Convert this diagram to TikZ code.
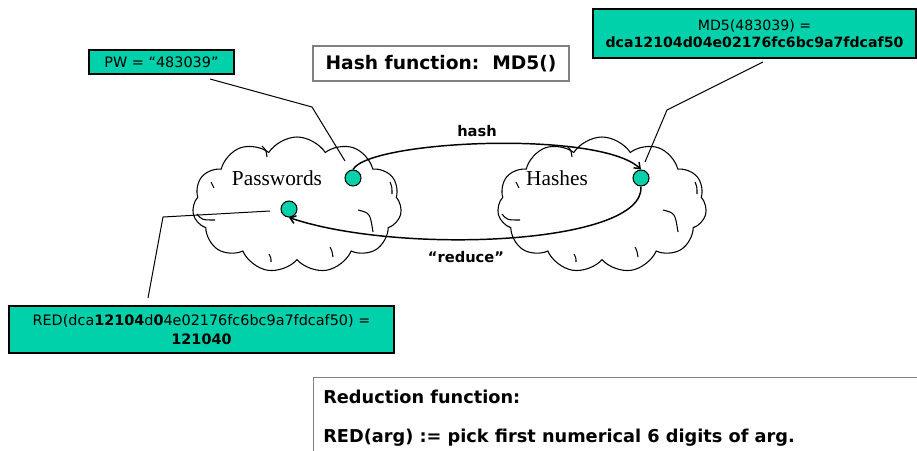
\documentclass[tikz,border=0pt]{standalone}
\usepackage{fontspec}
\setmainfont{DejaVu Sans}
\newfontfamily\cloudfont{Liberation Serif}
\usetikzlibrary{shapes.symbols,arrows.meta}
\definecolor{tealfill}{RGB}{0,209,170}
\definecolor{boxgray}{RGB}{128,128,128}
\tikzset{
  tealbox/.style={draw=black, fill=tealfill, line width=0.8pt, inner sep=0pt, align=center},
  graybox/.style={draw=boxgray, line width=0.8pt, inner sep=0pt, fill=white},
  cloudshape/.style={cloud, draw=black, line width=0.8pt, cloud puffs=11, cloud puff arc=115, aspect=1.55, inner sep=0pt, minimum width=157pt, minimum height=102pt},
  cloudline/.style={line width=0.8pt},
  dot/.style={circle, draw=black, fill=tealfill, line width=0.8pt, minimum size=12pt, inner sep=0pt},
  arr/.style={line width=1.1pt, -{Straight Barb[length=4pt,width=6pt]}},
  leader/.style={line width=0.75pt},
  cloudlabel/.style={font=\cloudfont\fontsize{16}{18}\selectfont, inner sep=0pt},
  arrlabel/.style={font=\bfseries\fontsize{11}{13}\selectfont, inner sep=0pt},
  cloudarcs/.pic={
    \draw[cloudline] (-35,-59) .. controls (-31,-55) .. (-30,-48);
    \draw[cloudline] (-86,-23) .. controls (-85,-20) .. (-83,-17);
    \draw[cloudline] (93,-23) .. controls (95,-18) .. (95,-11);
    \draw[cloudline] (61,5) .. controls (73,8) .. (76,27);
    \draw[cloudline] (-100,9) .. controls (-95,15) .. (-82,15);
    \draw[cloudline] (-28,49) .. controls (-26,53) .. (-26,57);
    \draw[cloudline] (33,42) .. controls (35,46) .. (36,52);
  },
}
\begin{document}
\begin{tikzpicture}[x=0.75pt, y=-0.75pt]
\useasboundingbox (0,0) rectangle (917,450);

% clouds
\node[cloudshape] (pwcloud) at (297,205) {};
\node[cloudshape] (hcloud) at (602,205) {};
\pic at (pwcloud.center) {cloudarcs};
\pic at (hcloud.center) {cloudarcs};
\node[cloudlabel] (pwlabel) at (277,178) {Passwords};
\node[cloudlabel] (hlabel) at (557,178) {Hashes};

% dots
\node[dot] (pdot) at (353,178) {};
\node[dot] (ldot) at (289,209) {};
\node[dot] (hdot) at (641,178) {};

% arrows
\draw[arr] (pdot.north) .. controls (370,140) and (600,130) .. (hdot.north);
\draw[arr] (hdot.south) .. controls (645,245) and (400,255) .. (ldot.south);
\node[arrlabel] (hashlbl) at (477,131) {hash};
\node[arrlabel] (redlbl) at (466,257) {“reduce”};

% boxes
\node[tealbox, minimum width=108.75pt, minimum height=18pt, font=\fontsize{10.8}{13}\selectfont] (pw) at (161.5,62) {PW = “483039”};
\node[graybox, minimum width=192pt, minimum height=26.25pt, font=\bfseries\fontsize{14}{16}\selectfont] (hashfn) at (441,63.5) {Hash function:\ \ MD5()};
\node[tealbox, minimum width=242.25pt, minimum height=36.75pt, font=\fontsize{10.6}{12.5}\selectfont] (md5) at (754.5,33.5) {MD5(483039) =\\\textbf{dca12104d04e02176fc6bc9a7fdcaf50}};
\node[tealbox, minimum width=288.75pt, minimum height=35.25pt, font=\fontsize{10.8}{14}\selectfont] (red) at (201.5,329.5) {RED(dca\textbf{12104}d\textbf{0}4e02176fc6bc9a7fdcaf50) =\\\textbf{121040}};

% reduction function box
\node[graybox, anchor=north west, minimum width=480pt, minimum height=100pt] (redfn) at (313,377) {};
\node[anchor=west, inner sep=0pt, font=\bfseries\fontsize{13.3}{15}\selectfont] (rf1) at (323,397) {Reduction function:};
\node[anchor=west, inner sep=0pt, font=\bfseries\fontsize{13.3}{15}\selectfont] (rf2) at (323,438) {RED(arg) := pick first numerical 6 digits of arg.};

% leader lines
\coordinate (pwa) at (210,79);
\coordinate (pwb) at (312,107);
\coordinate (pwc) at (345,161);
\draw[leader] (pwa) -- (pwb) -- (pwc);
\coordinate (mda) at (763,62);
\coordinate (mdb) at (667,110);
\coordinate (mdc) at (645,162);
\draw[leader] (mda) -- (mdb) -- (mdc);
\coordinate (rda) at (148,298);
\coordinate (rdb) at (163,217);
\coordinate (rdc) at (270,211);
\draw[leader] (rda) -- (rdb) -- (rdc);
\end{tikzpicture}
\end{document}
